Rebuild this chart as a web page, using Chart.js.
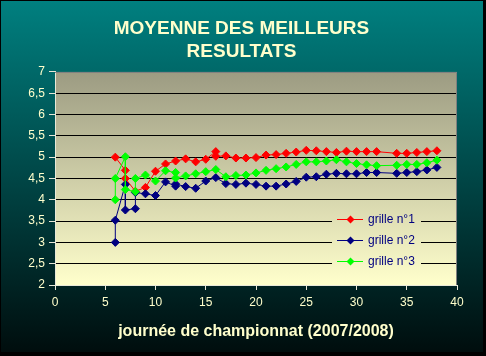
<!DOCTYPE html>
<html>
<head>
<meta charset="utf-8">
<script src="https://cdn.jsdelivr.net/npm/chart.js@4/dist/chart.umd.min.js"></script>
<style>
html,body{margin:0;padding:0;background:#000;}
#wrap{width:486px;height:356px;position:relative;}
canvas{display:block;}
</style>
</head>
<body>
<div id="wrap"><canvas id="c" width="486" height="356"></canvas></div>
<script>
// ---- data ----
const titleLines = ['MOYENNE DES MEILLEURS', 'RESULTATS'];
const xAxisTitle = 'journée de championnat (2007/2008)';
const seriesNames = ['grille n°1', 'grille n°2', 'grille n°3'];
const seriesColors = ['#ff0000', '#000080', '#00ff00'];

const grille1Days   = [6, 7, 7, 8, 9, 10, 11, 12, 13, 14, 15, 16, 16, 17, 18, 19, 20, 21, 22, 23, 24, 25, 26, 27, 28, 29, 30, 31, 32, 34, 35, 36, 37, 38];
const grille1Values = [5.0, 4.69, 4.5, 4.2, 4.29, 4.67, 4.84, 4.91, 4.96, 4.89, 4.95, 5.13, 5.02, 5.03, 4.98, 4.98, 4.99, 5.05, 5.06, 5.09, 5.12, 5.16, 5.15, 5.13, 5.11, 5.14, 5.13, 5.13, 5.13, 5.09, 5.09, 5.11, 5.13, 5.15];

const grille2Days   = [6, 6, 7, 7, 8, 8, 9, 10, 11, 12, 12, 13, 14, 15, 16, 17, 18, 19, 20, 21, 22, 23, 24, 25, 26, 27, 28, 29, 30, 31, 32, 34, 35, 36, 37, 38];
const grille2Values = [3.0, 3.52, 4.36, 3.76, 3.79, 4.17, 4.14, 4.1, 4.42, 4.32, 4.37, 4.31, 4.27, 4.44, 4.52, 4.38, 4.36, 4.39, 4.36, 4.32, 4.32, 4.37, 4.43, 4.53, 4.54, 4.6, 4.62, 4.61, 4.61, 4.64, 4.64, 4.62, 4.64, 4.66, 4.7, 4.76];

const grille3Days   = [6, 6, 7, 7, 8, 8, 9, 10, 11, 12, 12, 13, 14, 15, 16, 17, 18, 19, 20, 21, 22, 23, 24, 25, 26, 27, 28, 29, 30, 31, 32, 34, 35, 36, 37, 38];
const grille3Values = [4.0, 4.5, 5.01, 4.24, 4.19, 4.5, 4.58, 4.44, 4.68, 4.64, 4.51, 4.56, 4.61, 4.66, 4.71, 4.54, 4.57, 4.58, 4.63, 4.69, 4.73, 4.77, 4.83, 4.89, 4.89, 4.91, 4.94, 4.89, 4.85, 4.82, 4.80, 4.81, 4.83, 4.83, 4.87, 4.93];

const xTickLabels = ['0', '5', '10', '15', '20', '25', '30', '35', '40'];
const yTickLabels = ['2', '2,5', '3', '3,5', '4', '4,5', '5', '5,5', '6', '6,5', '7'];

// ---- build ----
const FONT = '"Liberation Sans", Arial, sans-serif';
const LIGHT = '#ffffcc';

function toPoints(days, values) { return days.map((d, i) => ({ x: d, y: values[i] })); }
const seriesData = [
  toPoints(grille1Days, grille1Values),
  toPoints(grille2Days, grille2Values),
  toPoints(grille3Days, grille3Values)
];

const datasets = seriesData.map((pts, i) => ({
  label: seriesNames[i],
  data: pts,
  showLine: true,
  borderColor: seriesColors[i],
  backgroundColor: seriesColors[i],
  borderWidth: 1,
  pointStyle: 'rectRot',
  pointRadius: 4,
  pointBorderWidth: 1,
  pointBorderColor: seriesColors[i],
  pointBackgroundColor: seriesColors[i],
  order: 2 - i,
  tension: 0
}));

const bgPlugin = {
  id: 'bg',
  beforeDraw(chart) {
    const { ctx, width, height, chartArea: ca } = chart;
    ctx.save();
    ctx.fillStyle = '#000';
    ctx.fillRect(0, 0, width, height);
    const g = ctx.createLinearGradient(0, 0, 0, height);
    g.addColorStop(0, '#008080');
    g.addColorStop(1, '#000c0c');
    ctx.fillStyle = g;
    ctx.fillRect(1, 1, width - 4, height - 5);
    const pg = ctx.createLinearGradient(0, ca.top, 0, ca.bottom);
    pg.addColorStop(0, '#9c9b82');
    pg.addColorStop(1, '#ffffcc');
    chart.$plotGradient = pg;
    ctx.fillStyle = pg;
    ctx.fillRect(ca.left, ca.top, ca.right - ca.left, ca.bottom - ca.top);
    ctx.restore();
  },
  afterDraw(chart) {
    const { ctx, chartArea: ca } = chart;
    ctx.save();
    ctx.strokeStyle = '#808080';
    ctx.lineWidth = 1;
    ctx.beginPath();
    ctx.moveTo(ca.left, ca.top + 0.5);
    ctx.lineTo(ca.right - 0.5, ca.top + 0.5);
    ctx.lineTo(ca.right - 0.5, ca.bottom);
    ctx.stroke();
    ctx.restore();
  }
};

const legendPlugin = {
  id: 'innerLegend',
  afterDraw(chart) {
    const { ctx, chartArea: ca } = chart;
    const bx = ca.right - 125, by = ca.top + 136, bw = 89, bh = 64;
    ctx.save();
    ctx.fillStyle = chart.$plotGradient;
    ctx.fillRect(bx, by, bw, bh);
    ctx.font = '12px ' + FONT;
    ctx.textBaseline = 'middle';
    ctx.textAlign = 'left';
    seriesNames.forEach((name, i) => {
      const y = by + 11.5 + i * 20.7;
      const yy = Math.round(y) + 0.5;
      ctx.strokeStyle = seriesColors[i];
      ctx.lineWidth = 1;
      ctx.beginPath();
      ctx.moveTo(bx + 5, yy);
      ctx.lineTo(bx + 31, yy);
      ctx.stroke();
      const mx = bx + 18.5, r = 4;
      ctx.fillStyle = seriesColors[i];
      ctx.beginPath();
      ctx.moveTo(mx, yy - r); ctx.lineTo(mx + r, yy); ctx.lineTo(mx, yy + r); ctx.lineTo(mx - r, yy);
      ctx.closePath();
      ctx.fill();
      ctx.fillStyle = '#000080';
      ctx.fillText(name, bx + 36, y + 0.5);
    });
    ctx.restore();
  }
};

new Chart(document.getElementById('c'), {
  type: 'scatter',
  data: { datasets },
  options: {
    responsive: false,
    animation: false,
    events: [],
    devicePixelRatio: 1,
    layout: { padding: { left: 0, right: 3, top: 0, bottom: 0 } },
    plugins: {
      legend: { display: false },
      tooltip: { enabled: false },
      title: {
        display: true,
        text: titleLines,
        color: LIGHT,
        font: { family: FONT, size: 19, weight: 'bold', lineHeight: 1.23 },
        padding: { top: 16.6, bottom: 8.6 }
      }
    },
    scales: {
      x: {
        type: 'linear',
        min: 0, max: 40,
        afterFit(s) { s.height = 71; },
        afterBuildTicks(s) { s.ticks = xTickLabels.map(t => ({ value: Number(t) })); },
        ticks: {
          color: LIGHT,
          font: { family: FONT, size: 12 },
          padding: 5,
          maxRotation: 0,
          autoSkip: false,
          callback: (v, i) => xTickLabels[i]
        },
        grid: { drawOnChartArea: false, tickLength: 5, tickColor: '#e8e8d8', color: '#e8e8d8' },
        border: { color: '#e8e8d8', width: 1 },
        title: {
          display: true,
          text: xAxisTitle,
          color: LIGHT,
          font: { family: FONT, size: 16, weight: 'bold', lineHeight: 1.2 },
          padding: { top: 0, bottom: 15 }
        }
      },
      y: {
        type: 'linear',
        position: 'left',
        min: 2, max: 7,
        afterFit(s) { s.width = 55; },
        afterBuildTicks(s) { s.ticks = yTickLabels.map((t, i) => ({ value: 2 + i * 0.5 })); },
        ticks: {
          color: LIGHT,
          font: { family: FONT, size: 12 },
          padding: 4,
          autoSkip: false,
          callback: (v, i) => yTickLabels[i]
        },
        grid: {
          tickLength: 6,
          tickColor: '#e8e8d8',
          lineWidth: 1,
          color: (c) => (c.tick && c.tick.value > 2 && c.tick.value < 7) ? '#000000' : 'rgba(0,0,0,0)'
        },
        border: { color: '#e8e8d8', width: 1 }
      },
      yRight: {
        type: 'linear',
        position: 'right',
        display: true,
        afterFit(s) { s.width = 26; },
        ticks: { display: false },
        grid: { display: false, drawTicks: false },
        border: { display: false }
      }
    }
  },
  plugins: [bgPlugin, legendPlugin]
});
</script>
</body>
</html>
